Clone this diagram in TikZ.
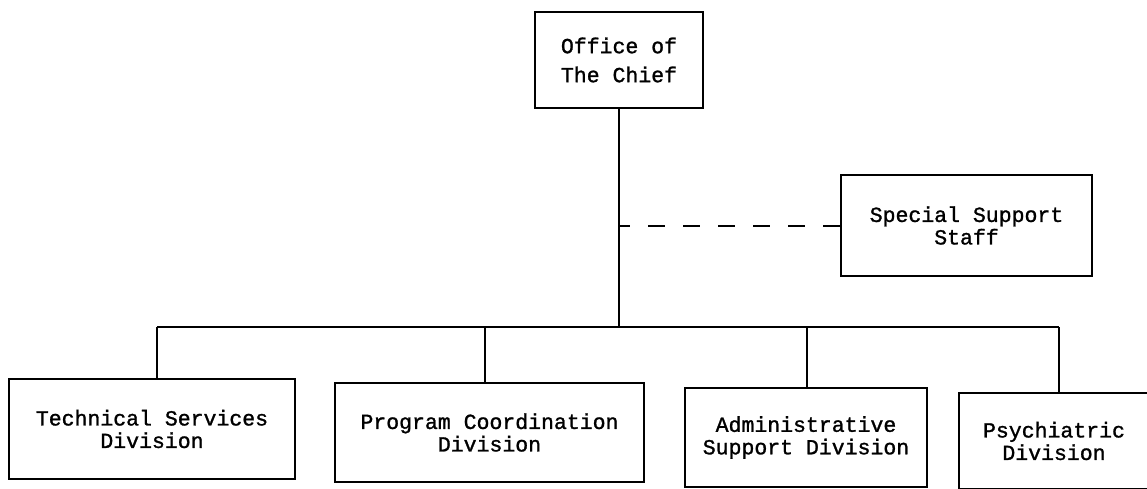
\documentclass[tikz,border=0pt]{standalone}
\usepackage{fontspec}
\setmonofont[FakeBold=1.2]{Liberation Mono}
\begin{document}
\begin{tikzpicture}[x=1pt,y=-1pt,
  orgbox/.style={draw=black,line width=2.2pt,inner sep=0pt,align=center,
    font=\ttfamily\fontsize{21.5}{22.5}\selectfont},
  chiefbox/.style={orgbox,font=\ttfamily\fontsize{21.5}{29}\selectfont},
  link/.style={draw=black,line width=2.4pt},
  staffline/.style={draw=black,line width=2pt,dash pattern=on 17pt off 18pt}]
\fill[white] (0,0) rectangle (1147,489);
\useasboundingbox (0,0) rectangle (1147,489);

\node[chiefbox,minimum width=168pt,minimum height=96pt] (chief) at (619,60) {Office of\\The Chief};
\node[orgbox,minimum width=251pt,minimum height=101pt] (special) at (966.5,225.5) {Special Support\\Staff};

\node[orgbox,minimum width=286pt,minimum height=100pt] (tech) at (152,429) {Technical Services\\Division};
\node[orgbox,minimum width=309pt,minimum height=99pt] (prog) at (489.5,432.5) {Program Coordination\\Division};
\node[orgbox,minimum width=242pt,minimum height=99pt] (admin) at (806,437.5) {Administrative\\Support Division};
\node[orgbox,minimum width=190pt,minimum height=96pt] (psych) at (1054,441) {Psychiatric\\Division};

\coordinate (busL) at (157,327);
\coordinate (busR) at (1059,327);
\coordinate (dP) at (485,327);
\coordinate (dA) at (807,327);

\draw[link] (chief.south) -- (chief.south |- busL);
\draw[link] (busL) -- (busR);
\draw[link] (busL) -- (busL |- tech.north);
\draw[link] (dP) -- (dP |- prog.north);
\draw[link] (dA) -- (dA |- admin.north);
\draw[link] (busR) -- (busR |- psych.north);
\draw[staffline] (special.west) -- (special.west -| chief.south);
\end{tikzpicture}
\end{document}
